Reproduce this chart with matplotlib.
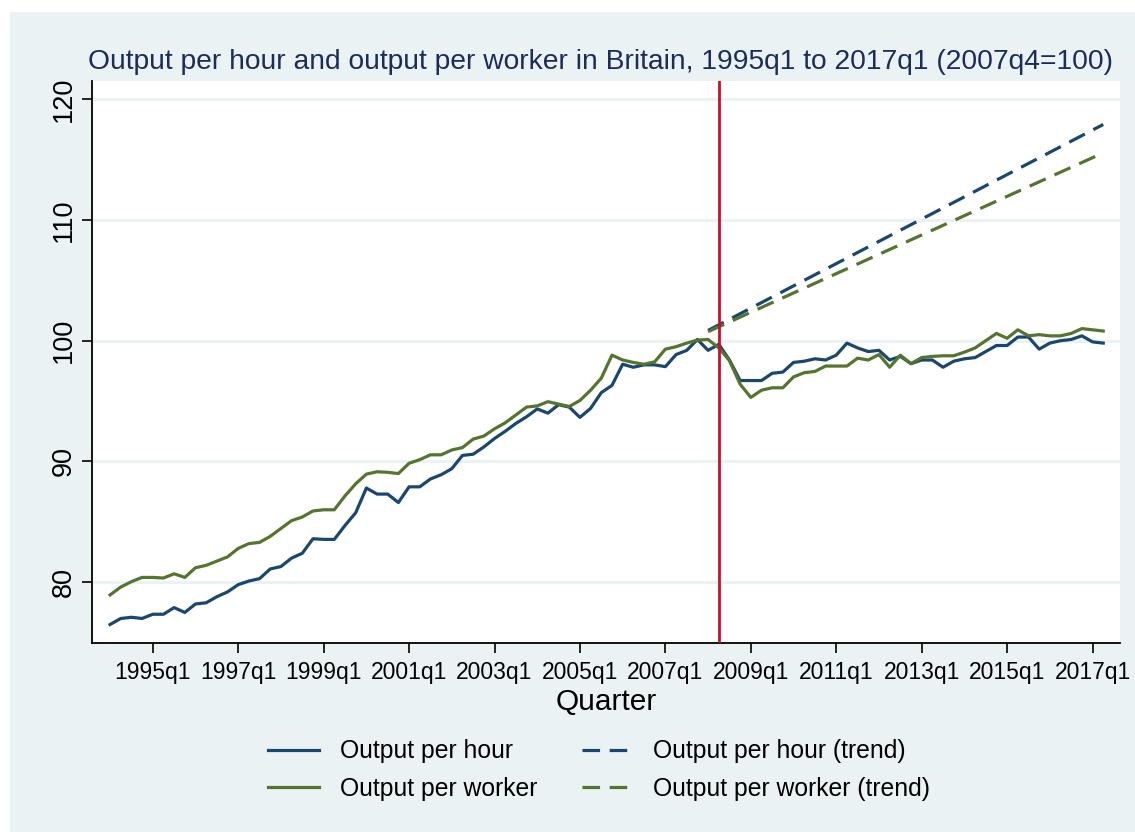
import matplotlib
matplotlib.use("Agg")
import matplotlib.pyplot as plt
from matplotlib.patches import Rectangle

plt.rcParams['font.family'] = ['Liberation Sans', 'DejaVu Sans']

# ---- data -------------------------------------------------------------
start_year = 1994
n_quarters = 94  # 1994q1 .. 2017q2
quarters = [f"{start_year + k // 4}q{k % 4 + 1}" for k in range(n_quarters)]

output_per_hour = [
    76.5, 77.0, 77.1, 77.0, 77.35, 77.35, 77.9, 77.5, 78.2, 78.3,
    78.8, 79.2, 79.8, 80.1, 80.3, 81.1, 81.3, 82.0, 82.4, 83.6,
    83.55, 83.55, 84.7, 85.75, 87.8, 87.3, 87.3, 86.6, 87.9, 87.9,
    88.55, 88.9, 89.4, 90.5, 90.6, 91.2, 91.9, 92.5, 93.15, 93.7,
    94.35, 94.0, 94.7, 94.5, 93.65, 94.4, 95.7, 96.3, 98.05, 97.8,
    98.0, 98.0, 97.85, 98.85, 99.2, 100.1, 99.2, 99.7, 98.4, 96.7,
    96.7, 96.7, 97.3, 97.4, 98.2, 98.3, 98.5, 98.4, 98.8, 99.8,
    99.4, 99.1, 99.2, 98.4, 98.7, 98.1, 98.4, 98.4, 97.8, 98.3,
    98.5, 98.6, 99.1, 99.6, 99.6, 100.3, 100.3, 99.3, 99.8, 100.0,
    100.1, 100.4, 99.9, 99.8,
]

output_per_worker = [
    78.95, 79.6, 80.05, 80.4, 80.4, 80.35, 80.7, 80.4, 81.2, 81.4,
    81.75, 82.1, 82.8, 83.2, 83.3, 83.8, 84.45, 85.1, 85.4, 85.9,
    86.0, 86.0, 87.15, 88.15, 88.95, 89.15, 89.1, 89.0, 89.85, 90.15,
    90.55, 90.55, 90.95, 91.15, 91.85, 92.1, 92.7, 93.2, 93.85, 94.5,
    94.6, 94.95, 94.75, 94.55, 95.05, 95.9, 96.9, 98.8, 98.4, 98.2,
    98.05, 98.25, 99.3, 99.5, 99.8, 100.05, 100.1, 99.4, 98.35, 96.4,
    95.3, 95.9, 96.1, 96.1, 97.0, 97.35, 97.45, 97.9, 97.9, 97.9,
    98.55, 98.4, 98.85, 97.8, 98.8, 98.1, 98.6, 98.7, 98.75, 98.75,
    99.05, 99.4, 100.0, 100.6, 100.2, 100.9, 100.4, 100.5, 100.4, 100.4,
    100.6, 101.0, 100.9, 100.8,
]

# trend lines: endpoints (quarter index, value)
trend_idx = [56, 93]
trend_hour = [100.85, 117.9]
trend_worker = [100.75, 115.55]

crisis_idx = 57          # 2008q2
tick_idx = list(range(4, n_quarters, 8))      # 1995q1, 1997q1, ... 2017q1
tick_labels = [quarters[k] for k in tick_idx]
y_ticks = [80, 90, 100, 110, 120]

title = "Output per hour and output per worker in Britain, 1995q1 to 2017q1 (2007q4=100)"

# ---- style ------------------------------------------------------------
BG = "#EAF2F3"
NAVY = "#1a476f"
GREEN = "#55752f"
RED = "#c8102e"
TITLE_C = "#1c2c5b"

W, H = 1135, 832
fig = plt.figure(figsize=(W / 100, H / 100), dpi=100)
fig.patch.set_facecolor("white")
fig.add_artist(Rectangle((10 / W, 0), 1 - 10 / W, 1 - 12 / H,
                         transform=fig.transFigure, facecolor=BG,
                         edgecolor="none", zorder=-10))

ax = fig.add_axes([92 / W, 1 - 643 / H, (1120 - 92) / W, (643 - 81) / H])
ax.set_facecolor("white")

x = list(range(n_quarters))
dash = (0, (5.5, 3))
ax.plot(x, output_per_hour, color=NAVY, lw=2.3, label="Output per hour", zorder=3)
ax.plot(x, output_per_worker, color=GREEN, lw=2.3, label="Output per worker", zorder=3)
ax.plot(trend_idx, trend_hour, color=NAVY, lw=2.3, ls=dash,
        label="Output per hour (trend)", zorder=3)
ax.plot(trend_idx, trend_worker, color=GREEN, lw=2.3, ls=dash,
        label="Output per worker (trend)", zorder=3)
ax.axvline(crisis_idx, color=RED, lw=2.0, zorder=4)

ax.set_xlim(-1.69, 94.57)
ax.set_ylim(74.97, 121.5)

ax.set_yticks(y_ticks)
ax.set_yticklabels([str(v) for v in y_ticks], rotation=90, va="center", fontsize=19.5)
ax.set_xticks(tick_idx)
ax.set_xticklabels(tick_labels, fontsize=16.5)
ax.tick_params(axis="both", direction="out", length=7, width=1.2, colors="black")
ax.tick_params(axis="x", pad=6)
ax.tick_params(axis="y", pad=4)

ax.grid(axis="y", color=BG, lw=2.2, zorder=0)
ax.set_axisbelow(True)
for s in ["top", "right"]:
    ax.spines[s].set_visible(False)
for s in ["left", "bottom"]:
    ax.spines[s].set_linewidth(1.3)
    ax.spines[s].set_color("black")

ax.set_xlabel("Quarter", fontsize=21.5, labelpad=3)
fig.text(600 / W, 1 - 62 / H, title, ha="center", va="center",
         fontsize=20.3, color=TITLE_C)

handles, labels = ax.get_legend_handles_labels()
leg = fig.legend(handles, labels,
                 ncol=2, loc="center", bbox_to_anchor=(0.528, 1 - 770 / H),
                 frameon=False, fontsize=17.8, handlelength=2.05,
                 columnspacing=1.8, labelspacing=0.55, handletextpad=0.85)

fig.savefig("out.png", dpi=100, facecolor=fig.get_facecolor())
